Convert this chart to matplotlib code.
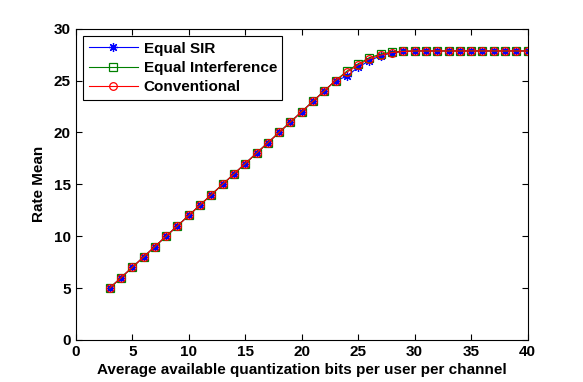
import matplotlib
matplotlib.use('Agg')
import matplotlib.pyplot as plt

# quantization bits per user per channel
bits = list(range(3, 41))

# rate mean, linear part shared by all three schemes (x=3..23)
linear = [5, 6, 7, 8, 9, 10, 11, 12, 13, 14, 15, 16, 17, 18, 19, 20, 21, 22, 23, 24, 25]
flat = [27.85] * 11  # x = 30..40

equal_sir = linear + [25.4, 26.3, 26.9, 27.4, 27.65, 27.8] + flat
equal_interf = linear + [25.9, 26.6, 27.2, 27.55, 27.75, 27.83] + flat
conventional = linear + [25.8, 26.5, 27.1, 27.45, 27.7, 27.8] + flat

plt.rcParams['font.family'] = ['Liberation Sans', 'DejaVu Sans']
plt.rcParams['font.size'] = 11
plt.rcParams['font.weight'] = 'bold'
plt.rcParams['axes.labelweight'] = 'bold'

fig = plt.figure(figsize=(5.83, 3.82), dpi=100)
ax = fig.add_axes([0.13, 0.11, 0.775, 0.815])

ax.plot(bits, equal_sir, '-', marker=(8, 2, 0), color='blue', markersize=6.5,
        markeredgewidth=0.9, linewidth=0.8, label='Equal SIR')
ax.plot(bits, equal_interf, '-s', color='green', markerfacecolor='none', markersize=6,
        markeredgewidth=0.9, linewidth=0.8, label='Equal Interference')
ax.plot(bits, conventional, '-o', color='red', markerfacecolor='none', markersize=5.5,
        markeredgewidth=0.9, linewidth=0.8, label='Conventional')

ax.set_xlim(0, 40)
ax.set_ylim(0, 30)
ax.set_xticks(range(0, 41, 5))
ax.set_yticks(range(0, 31, 5))
ax.tick_params(direction='in', top=True, right=True, length=4, width=0.8)
for s in ax.spines.values():
    s.set_linewidth(0.8)

ax.set_xlabel('Average available quantization bits per user per channel', labelpad=3)
ax.set_ylabel('Rate Mean', labelpad=6)

leg = ax.legend(loc='upper left', fancybox=False, framealpha=1, edgecolor='black',
                borderaxespad=0.5, handlelength=3.2, handletextpad=0.4,
                labelspacing=0.35, borderpad=0.35)
leg.get_frame().set_linewidth(0.8)

fig.savefig('out.png', dpi=100)
